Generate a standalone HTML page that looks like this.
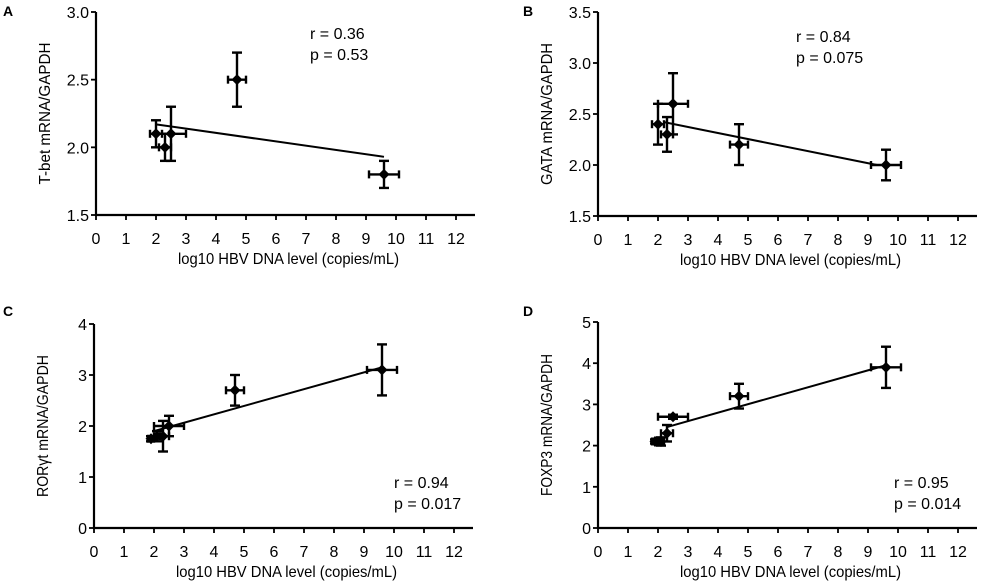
<!DOCTYPE html>
<html><head><meta charset="utf-8"><style>
body{margin:0;background:#fff;}
svg{display:block;font-family:"Liberation Sans",sans-serif;}
</style></head><body>
<svg id="c" width="985" height="584" viewBox="0 0 985 584"></svg>
<script>
const xTicks=[0,1,2,3,4,5,6,7,8,9,10,11,12];
const yTicksA=[1.5,2.0,2.5,3.0];
const yTicksB=[1.5,2.0,2.5,3.0,3.5];
const yTicksC=[0,1,2,3,4];
const yTicksD=[0,1,2,3,4,5];
const xA=[2.0,2.3,2.5,4.7,9.6];
const yA=[2.1,2.0,2.1,2.5,1.8];
const xeA=[0.2,0.2,0.5,0.3,0.5];
const yeA=[0.1,0.1,0.2,0.2,0.1];
const fitA=[[2.0,2.17],[9.6,1.93]];
const xB=[2.0,2.3,2.5,4.7,9.6];
const yB=[2.4,2.3,2.6,2.2,2.0];
const xeB=[0.2,0.2,0.5,0.3,0.5];
const yeB=[0.2,0.17,0.3,0.2,0.15];
const fitB=[[2.2,2.42],[9.3,2.0]];
const xC=[1.9,2.1,2.3,2.5,4.7,9.6];
const yC=[1.75,1.8,1.8,2.0,2.7,3.1];
const xeC=[0.1,0.1,0.2,0.5,0.3,0.5];
const yeC=[0.05,0.1,0.3,0.2,0.3,0.5];
const fitC=[[2.0,1.9],[9.6,3.15]];
const xD=[1.9,2.1,2.3,2.5,4.7,9.6];
const yD=[2.1,2.1,2.3,2.7,3.2,3.9];
const xeD=[0.1,0.1,0.2,0.5,0.3,0.5];
const yeD=[0.05,0.1,0.2,0.05,0.3,0.5];
const fitD=[[2.3,2.45],[9.6,3.95]];
const NS="http://www.w3.org/2000/svg";
const svg=document.getElementById('c');
function mk(tag,at,parent){const e=document.createElementNS(NS,tag);for(const k in at)e.setAttribute(k,at[k]);(parent||svg).appendChild(e);return e;}
function panel(o){
 const g=mk('g',{});
 
 
 const sx=v=>o.x0+v*30;
 const sy=v=>o.yb-(v-o.yt[0])/(o.yt[o.yt.length-1]-o.yt[0])*(o.yb-o.ytop);
 let t=mk('text',{x:o.lx,y:o.ly,'font-size':14,'font-weight':'bold'},g);t.textContent=o.id;
 
 
 let ax=mk('line',{x1:o.x0,y1:o.ytop,x2:o.x0,y2:o.yb+1,stroke:'#000','stroke-width':2.2},g);
 
 
 let bx=mk('line',{x1:o.x0-1,y1:o.yb,x2:o.x0+379,y2:o.yb,stroke:'#000','stroke-width':2.2},g);
 
 
 o.yt.forEach(v=>{mk('line',{x1:o.x0-5,y1:sy(v),x2:o.x0,y2:sy(v),stroke:'#000','stroke-width':1.8},g);
  const tx=mk('text',{x:o.x0-7,y:sy(v)+6,'font-size':16,'text-anchor':'end'},g);tx.textContent=o.fmt(v);
  
  });
 xTicks.forEach(v=>{mk('line',{x1:sx(v),y1:o.yb,x2:sx(v),y2:o.yb+5,stroke:'#000','stroke-width':1.8},g);
  const tx=mk('text',{x:sx(v),y:o.yb+29,'font-size':16,'text-anchor':'middle'},g);tx.textContent=v;
  
  });
 const xl=mk('text',{x:o.x0+82,y:o.yb+49,'font-size':16,textLength:221,lengthAdjust:'spacingAndGlyphs'},g);xl.textContent='log10 HBV DNA level (copies/mL)';
 
 
 const ymid=(o.ytop+o.yb)/2;
 const yl=mk('text',{x:o.x0-46,y:ymid,'font-size':16,'text-anchor':'middle',textLength:142,lengthAdjust:'spacingAndGlyphs',transform:`rotate(-90 ${o.x0-46} ${ymid})`},g);yl.textContent=o.ytitle;
 
 
 const fl=mk('line',{x1:sx(o.fit[0][0]),y1:sy(o.fit[0][1]),x2:sx(o.fit[1][0]),y2:sy(o.fit[1][1]),stroke:'#000','stroke-width':2},g);
 
 
 o.xs.forEach((xv,i)=>{
  const cx=sx(xv),cy=sy(o.ys[i]);
  const pg=mk('g',{stroke:'#000','stroke-width':2.4},g);
  
  
  const x1=sx(xv-o.xe[i]),x2=sx(xv+o.xe[i]),y1=sy(o.ys[i]+o.ye[i]),y2=sy(o.ys[i]-o.ye[i]);
  mk('line',{x1,y1:cy,x2,y2:cy},pg);mk('line',{x1,y1:cy-4,x2:x1,y2:cy+4},pg);mk('line',{x1:x2,y1:cy-4,x2,y2:cy+4},pg);
  mk('line',{x1:cx,y1,x2:cx,y2},pg);mk('line',{x1:cx-5,y1,x2:cx+5,y2:y1},pg);mk('line',{x1:cx-5,y1:y2,x2:cx+5,y2},pg);
  mk('polygon',{points:`${cx},${cy-5.5} ${cx+5.5},${cy} ${cx},${cy+5.5} ${cx-5.5},${cy}`,fill:'#000','stroke-width':0},pg);
 });
 o.stats.forEach((s,i)=>{const tx=mk('text',{x:o.sx,y:o.sy+i*21,'font-size':16},g);tx.textContent=s;
  
  });
}
const f1=v=>v.toFixed(1),f0=v=>String(v);
panel({id:'A',lx:3,ly:16,x0:96,ytop:12,yb:215,yt:yTicksA,fmt:f1,ytitle:'T-bet mRNA/GAPDH',xs:xA,ys:yA,xe:xeA,ye:yeA,fit:fitA,stats:['r = 0.36','p = 0.53'],sx:310,sy:39});
panel({id:'B',lx:523,ly:16,x0:598,ytop:12,yb:216,yt:yTicksB,fmt:f1,ytitle:'GATA mRNA/GAPDH',xs:xB,ys:yB,xe:xeB,ye:yeB,fit:fitB,stats:['r = 0.84','p = 0.075'],sx:796,sy:42});
panel({id:'C',lx:3,ly:316,x0:94,ytop:324,yb:528,yt:yTicksC,fmt:f0,ytitle:'RORγt mRNA/GAPDH',xs:xC,ys:yC,xe:xeC,ye:yeC,fit:fitC,stats:['r = 0.94','p = 0.017'],sx:394,sy:488});
panel({id:'D',lx:523,ly:316,x0:598,ytop:322,yb:528,yt:yTicksD,fmt:f0,ytitle:'FOXP3 mRNA/GAPDH',xs:xD,ys:yD,xe:xeD,ye:yeD,fit:fitD,stats:['r = 0.95','p = 0.014'],sx:894,sy:488});
</script>
</body></html>
